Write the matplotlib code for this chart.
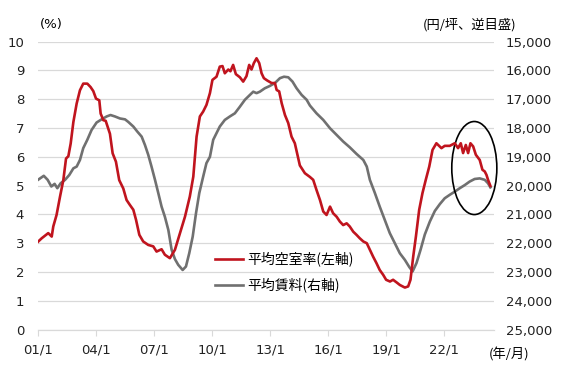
import matplotlib
matplotlib.use("Agg")
import matplotlib.pyplot as plt
from matplotlib.patches import Ellipse

plt.rcParams['font.family'] = ['DejaVu Sans', 'Noto Sans CJK JP']
plt.rcParams['font.size'] = 9.5

# vacancy rate (%) - left axis
vac_year = [2001.00, 2001.19, 2001.36, 2001.53, 2001.71, 2001.79, 2001.96, 2002.14, 2002.31, 2002.45,
            2002.57, 2002.69, 2002.83, 2003.00, 2003.17, 2003.34, 2003.55, 2003.72, 2003.86, 2004.00,
            2004.17, 2004.24, 2004.38, 2004.50, 2004.72, 2004.86, 2005.03, 2005.20, 2005.41, 2005.58,
            2005.75, 2005.93, 2006.07, 2006.24, 2006.44, 2006.70, 2006.96, 2007.13, 2007.39, 2007.56,
            2007.82, 2008.08, 2008.34, 2008.60, 2008.85, 2009.03, 2009.20, 2009.37, 2009.54, 2009.71,
            2009.89, 2010.02, 2010.23, 2010.40, 2010.54, 2010.66, 2010.84, 2010.95, 2011.09, 2011.23,
            2011.44, 2011.61, 2011.78, 2011.92, 2012.04, 2012.16, 2012.30, 2012.44, 2012.56, 2012.68,
            2012.85, 2013.08, 2013.25, 2013.34, 2013.47, 2013.60, 2013.77, 2013.94, 2014.11, 2014.28,
            2014.54, 2014.80, 2015.06, 2015.23, 2015.40, 2015.58, 2015.75, 2015.92, 2016.10, 2016.26,
            2016.44, 2016.61, 2016.78, 2016.96, 2017.12, 2017.30, 2017.47, 2017.64, 2017.82, 2018.00,
            2018.16, 2018.33, 2018.50, 2018.67, 2018.85, 2019.00, 2019.20, 2019.36, 2019.54, 2019.71,
            2019.97, 2020.14, 2020.26, 2020.40, 2020.54, 2020.71, 2020.88, 2021.05, 2021.23, 2021.40,
            2021.60, 2021.77, 2021.86, 2022.03, 2022.29, 2022.55, 2022.72, 2022.86, 2022.98, 2023.12,
            2023.24, 2023.36, 2023.50, 2023.64, 2023.84, 2023.98, 2024.10, 2024.19, 2024.27, 2024.39]
vac_rate = [3.05, 3.17, 3.26, 3.35, 3.23, 3.58, 3.98, 4.62, 5.19, 5.94,
            6.02, 6.46, 7.21, 7.85, 8.31, 8.54, 8.54, 8.42, 8.28, 8.02,
            7.96, 7.50, 7.27, 7.25, 6.80, 6.12, 5.83, 5.19, 4.90, 4.50,
            4.33, 4.16, 3.81, 3.29, 3.06, 2.94, 2.89, 2.71, 2.79, 2.60,
            2.48, 2.77, 3.35, 3.92, 4.62, 5.31, 6.70, 7.40, 7.57, 7.80,
            8.21, 8.67, 8.78, 9.13, 9.15, 8.90, 9.03, 8.97, 9.19, 8.87,
            8.76, 8.61, 8.80, 9.19, 9.03, 9.25, 9.42, 9.25, 8.90, 8.73,
            8.65, 8.56, 8.56, 8.32, 8.27, 7.86, 7.45, 7.17, 6.70, 6.47,
            5.70, 5.43, 5.30, 5.20, 4.85, 4.50, 4.10, 3.98, 4.27, 4.04,
            3.92, 3.75, 3.63, 3.69, 3.58, 3.40, 3.29, 3.17, 3.06, 3.00,
            2.77, 2.53, 2.31, 2.07, 1.90, 1.73, 1.67, 1.73, 1.64, 1.55,
            1.46, 1.50, 1.73, 2.53, 3.23, 4.16, 4.74, 5.20, 5.66, 6.24,
            6.47, 6.36, 6.30, 6.38, 6.38, 6.47, 6.30, 6.47, 6.13, 6.41,
            6.13, 6.47, 6.36, 6.07, 5.89, 5.55, 5.49, 5.37, 5.20, 4.99]

# average rent (yen/tsubo) - right axis, inverted
rent_year = [2001.00, 2001.30, 2001.50, 2001.69, 2001.86, 2002.00, 2002.17, 2002.40, 2002.62, 2002.83,
             2003.00, 2003.17, 2003.34, 2003.55, 2003.77, 2004.03, 2004.29, 2004.55, 2004.75, 2004.98,
             2005.24, 2005.50, 2005.67, 2005.93, 2006.13, 2006.36, 2006.53, 2006.70, 2006.87, 2007.05,
             2007.22, 2007.39, 2007.56, 2007.74, 2007.91, 2008.08, 2008.25, 2008.48, 2008.65, 2008.82,
             2009.00, 2009.17, 2009.34, 2009.54, 2009.71, 2009.89, 2010.06, 2010.23, 2010.40, 2010.66,
             2010.92, 2011.18, 2011.44, 2011.70, 2011.96, 2012.13, 2012.30, 2012.47, 2012.73, 2012.99,
             2013.25, 2013.51, 2013.72, 2013.94, 2014.16, 2014.37, 2014.63, 2014.89, 2015.06, 2015.40,
             2015.75, 2016.10, 2016.44, 2016.78, 2017.12, 2017.47, 2017.82, 2018.00, 2018.16, 2018.42,
             2018.67, 2018.93, 2019.19, 2019.45, 2019.71, 2019.97, 2020.20, 2020.37, 2020.57, 2020.78,
             2021.00, 2021.26, 2021.52, 2021.78, 2022.03, 2022.29, 2022.55, 2022.81, 2023.07, 2023.32,
             2023.58, 2023.84, 2024.10, 2024.27, 2024.39]
rent = [19800, 19660, 19800, 20030, 19940, 20090, 19920, 19800, 19630, 19400,
        19340, 19110, 18700, 18410, 18070, 17810, 17700, 17600, 17550, 17600,
        17670, 17700, 17790, 17950, 18120, 18300, 18590, 18930, 19340, 19800,
        20260, 20730, 21080, 21540, 22230, 22550, 22750, 22930, 22810, 22350,
        21770, 20960, 20260, 19690, 19220, 19000, 18410, 18180, 17950, 17720,
        17600, 17490, 17260, 17020, 16850, 16740, 16790, 16740, 16620, 16540,
        16440, 16270, 16220, 16240, 16390, 16620, 16850, 17020, 17220, 17490,
        17720, 18010, 18240, 18470, 18670, 18900, 19110, 19340, 19800, 20260,
        20730, 21190, 21650, 22000, 22350, 22580, 22830, 22980, 22690, 22230,
        21700, 21250, 20880, 20640, 20440, 20320, 20210, 20090, 19980, 19860,
        19770, 19750, 19800, 19920, 20060]

xticks = [2001, 2004, 2007, 2010, 2013, 2016, 2019, 2022]
xticklabels = ['01/1', '04/1', '07/1', '10/1', '13/1', '16/1', '19/1', '22/1']
left_ticks = list(range(0, 11))
right_ticks = list(range(15000, 25001, 1000))

red = '#C0141E'
gray = '#707070'
grid_c = '#D9D9D9'

fig = plt.figure(figsize=(5.67, 3.78), dpi=100)
ax = fig.add_axes([0.067, 0.128, 0.805, 0.762])
ax2 = ax.twinx()
ax.set_zorder(ax2.get_zorder() + 1)
ax.patch.set_visible(False)

# grid on the rent axis so the lines sit above it
ax2.set_ylim(25000, 15000)
ax2.set_yticks(right_ticks)
ax2.set_yticklabels([f'{v:,}' for v in right_ticks])
ax2.grid(axis='y', color=grid_c, lw=0.9)
ax2.set_axisbelow(True)
l2, = ax2.plot(rent_year, rent, color=gray, lw=1.9, label='平均賃料(右軸)')

l1, = ax.plot(vac_year, vac_rate, color=red, lw=1.9, label='平均空室率(左軸)')
ax.set_ylim(0, 10)
ax.set_yticks(left_ticks)
ax.set_xlim(2001, 2024.6)
ax.set_xticks(xticks)
ax.set_xticklabels(xticklabels)

for a in (ax, ax2):
    for s in ('top', 'left', 'right'):
        a.spines[s].set_visible(False)
    a.spines['bottom'].set_color(grid_c)
ax.tick_params(axis='y', length=0, pad=10, colors='#222222')
ax2.tick_params(axis='y', length=0, pad=8, colors='#222222')
ax.tick_params(axis='x', length=4, pad=6, colors='#222222')
ax.tick_params(axis='x', color=grid_c)

ax.text(0.03, 1.058, '(%)', transform=ax.transAxes, ha='center', va='center',
        family=['DejaVu Sans', 'Noto Sans CJK JP'])
ax.text(0.946, 1.058, '(円/坪、逆目盛)', transform=ax.transAxes, ha='center', va='center',
        family=['Noto Sans CJK JP', 'DejaVu Sans'])
ax.text(1.032, -0.088, '(年/月)', transform=ax.transAxes, ha='center', va='center',
        family=['Noto Sans CJK JP', 'DejaVu Sans'])

ax.add_patch(Ellipse((2023.56, 5.61), 2.33, 3.23, fill=False, edgecolor='black',
                     lw=1.2, clip_on=False))

leg = ax.legend(handles=[l1, l2], loc='upper left', bbox_to_anchor=(0.373, 0.295),
                frameon=False, handlelength=2.0, handletextpad=0.3, labelspacing=0.8,
                borderpad=0, prop={'family': ['Noto Sans CJK JP', 'DejaVu Sans'], 'size': 10})

fig.savefig('out.png', dpi=100)
